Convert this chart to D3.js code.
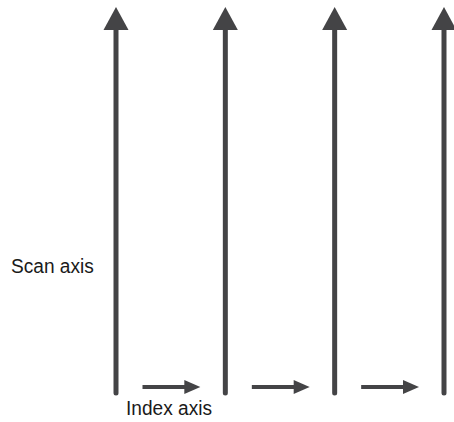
<!DOCTYPE html>
<html>
<head>
<meta charset="utf-8">
<script src="https://cdn.jsdelivr.net/npm/d3@7"></script>
<style>
  body { margin: 0; background: #fff; }
  text { font-family: "Liberation Sans", Arial, sans-serif; fill: #1a1a1a; }
</style>
</head>
<body>
<svg width="454" height="422"></svg>
<script>
// scan passes along the index axis
const scanLines = [0, 1, 2, 3];
// index steps between passes (from, to)
const indexSteps = [[0, 1], [1, 2], [2, 3]];
const scanLabel = "Scan axis";
const indexLabel = "Index axis";

const svg = d3.select("svg");
const color = "#444446";

const x = d3.scaleLinear().domain([0, 3]).range([116, 444]);
const y = d3.scaleLinear().domain([0, 1]).range([393, 7]);

const headH = 23, headW = 25;

// vertical scan shafts
svg.selectAll(".shaft")
  .data(scanLines)
  .enter()
  .append("line")
  .attr("x1", d => x(d))
  .attr("x2", d => x(d))
  .attr("y1", y(0))
  .attr("y2", y(1) + headH)
  .attr("stroke", color)
  .attr("stroke-width", 5)
  .attr("stroke-linecap", "round");

// arrow heads
svg.selectAll(".head")
  .data(scanLines)
  .enter()
  .append("path")
  .attr("d", d => `M${x(d)},${y(1)} L${x(d) + headW / 2},${y(1) + headH} L${x(d) - headW / 2},${y(1) + headH} Z`)
  .attr("fill", color);

// index step arrows
const stepY = 387;
const sx0 = d => x(d[0]) + 26.5;
const sx1 = d => x(d[1]) - 25;
svg.selectAll(".step")
  .data(indexSteps)
  .enter()
  .append("line")
  .attr("x1", sx0)
  .attr("x2", d => sx1(d) - 14)
  .attr("y1", stepY)
  .attr("y2", stepY)
  .attr("stroke", color)
  .attr("stroke-width", 4);

svg.selectAll(".stepHead")
  .data(indexSteps)
  .enter()
  .append("path")
  .attr("d", d => `M${sx1(d)},${stepY} L${sx1(d) - 16},${stepY - 7} L${sx1(d) - 16},${stepY + 7} Z`)
  .attr("fill", color);

// labels
svg.append("text")
  .attr("transform", "translate(11,273) scale(0.91,1)")
  .attr("font-size", 21)
  .text(scanLabel);

svg.append("text")
  .attr("transform", "translate(126,415) scale(0.91,1)")
  .attr("font-size", 21)
  .text(indexLabel);
</script>
</body>
</html>
